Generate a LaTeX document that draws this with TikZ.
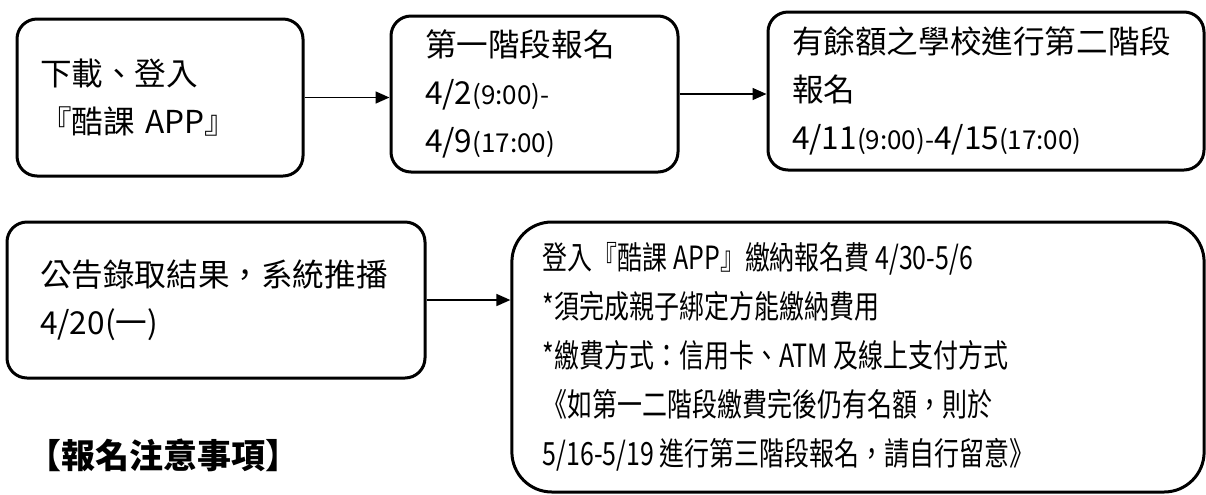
\documentclass[tikz,border=0pt]{standalone}
\usepackage{fontspec}
\usepackage{graphicx}
\setmainfont{Noto Sans CJK TC}
\usetikzlibrary{arrows.meta}

% smaller clock times inside the dates
\newcommand{\clock}[1]{{\fontsize{13pt}{14pt}\selectfont #1}}
% payment text is set narrower than the rest
\newcommand{\narrowtext}[1]{\scalebox{0.78}[1]{\parbox{404pt}{#1}}}

\begin{document}
\begin{tikzpicture}[x=0.5pt, y=-0.5pt,
    stepbox/.style={draw, line width=1.5pt, rounded corners=10pt, align=left,
        font=\fontsize{15.8pt}{24pt}\selectfont, inner ysep=0pt},
    flow/.style={line width=0.8pt, -{Triangle[length=7pt, width=6pt]}}]
        \useasboundingbox (0,0) rectangle (1206,494);

        % First row: download, stage one, stage two
        \node[stepbox, minimum width=143pt, minimum height=78.5pt, inner xsep=11.5pt, text width=120pt] (download) at (160, 97.5) {下載、登入\\『酷課 APP』};
        \node[stepbox, minimum width=143.5pt, minimum height=78pt, inner xsep=17pt, text width=109.5pt] (stageone) at (534.5, 94) {第一階段報名\\4/2\clock{(9:00)-}\\4/9\clock{(17:00)}};
        \node[stepbox, minimum width=218pt, minimum height=79pt, inner xsep=12pt, text width=194pt] (stagetwo) at (986, 91) {有餘額之學校進行第二階段\\報名\\4/11\clock{(9:00)-}4/15\clock{(17:00)}};

        % Second row: results and payment
        \node[stepbox, minimum width=209pt, minimum height=78pt, inner xsep=16.5pt, text width=176pt] (result) at (216, 300) {公告錄取結果，系統推播\\4/20(一)};
        \node[stepbox, rounded corners=20pt, minimum width=346pt, minimum height=135pt, inner xsep=15.5pt,
            font=\fontsize{16pt}{24.5pt}\selectfont] (payment) at (858, 357) {\narrowtext{登入『酷課 APP』繳納報名費 4/30-5/6\\{}*須完成親子綁定方能繳納費用\\{}*繳費方式：信用卡、ATM 及線上支付方式\\《如第一二階段繳費完後仍有名額，則於\\5/16-5/19 進行第三階段報名，請自行留意》}};

        % Heading under the results box
        \node[font=\bfseries\fontsize{17pt}{20pt}\selectfont, anchor=west] (notes) at (20, 455) {【報名注意事項】};

        % Arrows between the steps
        \draw[flow] (download.east) -- (download.east -| stageone.west);
        \draw[flow] (stageone.east) -- (stageone.east -| stagetwo.west);
        \draw[flow] (result.east) -- (result.east -| payment.west);
\end{tikzpicture}
\end{document}
